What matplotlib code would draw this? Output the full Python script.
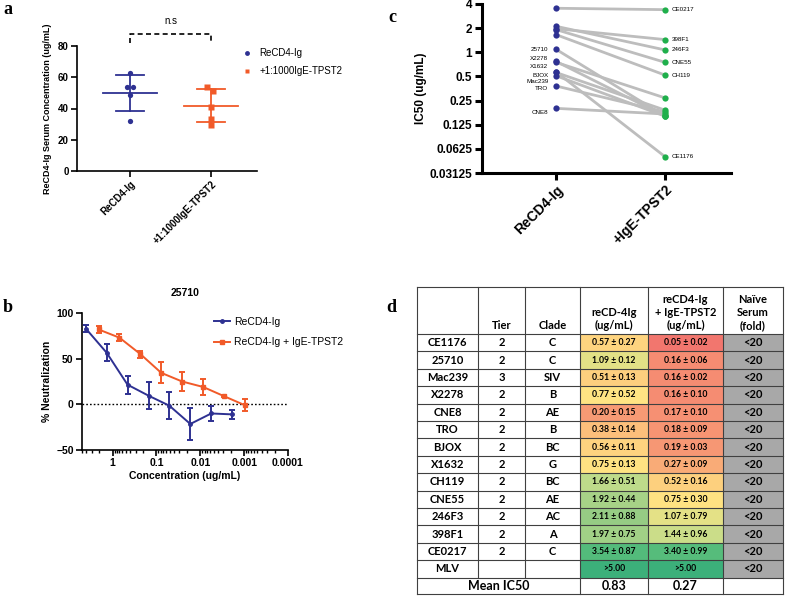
import numpy as np
import matplotlib
matplotlib.use('Agg')
import matplotlib.pyplot as plt
from matplotlib.lines import Line2D
from matplotlib.patches import Rectangle
from matplotlib.colors import LinearSegmentedColormap, LogNorm
from matplotlib.ticker import LogLocator, NullFormatter, FixedLocator

plt.rcParams['font.family'] = ['Liberation Sans', 'DejaVu Sans']

W, H = 787, 597
BLUE = '#2E3192'
ORANGE = '#F15A29'
GREEN = '#1FAF4B'
GRAY_LINE = '#BDBDBD'

# ---------------- Panel a data ----------------
groups_a = ['ReCD4-Ig', '+1:1000IgE-TPST2']
serum_recd4 = [63.0, 53.5, 53.5, 48.5, 32.0]
serum_tpst2 = [54.0, 51.5, 41.0, 33.5, 29.5]
jitter_recd4 = [0.0, -0.04, 0.04, 0.0, 0.0]
jitter_tpst2 = [-0.05, 0.03, 0.0, 0.0, 0.0]

# ---------------- Panel b data ----------------
series_b = ['ReCD4-Ig', 'ReCD4-Ig + IgE-TPST2']
conc_recd4 = [4.1, 1.37, 0.457, 0.152, 0.0508, 0.0169, 0.00564, 0.00188]
neut_recd4 = [83, 56.5, 21.5, 9.5, -1.5, -21.5, -10, -11]
err_recd4 = [4, 9.5, 10, 14.5, 15, 18, 8.5, 5]
conc_tpst2 = [2.1, 0.70, 0.233, 0.078, 0.026, 0.0086, 0.0029, 0.00096]
neut_tpst2 = [82, 73, 55, 34.5, 25, 19, 9, -1]
err_tpst2 = [3.6, 3.5, 3.8, 11.5, 10, 8.5, 1, 6.5]
conc_ticks = [1, 0.1, 0.01, 0.001, 0.0001]
conc_tick_labels = ['1', '0.1', '0.01', '0.001', '0.0001']

# ---------------- Table / panel c data ----------------
strains = ['CE1176', '25710', 'Mac239', 'X2278', 'CNE8', 'TRO', 'BJOX',
           'X1632', 'CH119', 'CNE55', '246F3', '398F1', 'CE0217']
tiers = ['2', '2', '3', '2', '2', '2', '2', '2', '2', '2', '2', '2', '2']
clades = ['C', 'C', 'SIV', 'B', 'AE', 'B', 'BC', 'G', 'BC', 'AE', 'AC', 'A', 'C']
ic50_recd4 = [0.57, 1.09, 0.51, 0.77, 0.20, 0.38, 0.56, 0.75, 1.66, 1.92, 2.11, 1.97, 3.54]
sd_recd4 = [0.27, 0.12, 0.13, 0.52, 0.15, 0.14, 0.11, 0.13, 0.51, 0.44, 0.88, 0.75, 0.87]
ic50_tpst2 = [0.05, 0.16, 0.16, 0.16, 0.17, 0.18, 0.19, 0.27, 0.52, 0.75, 1.07, 1.44, 3.40]
sd_tpst2 = [0.02, 0.06, 0.02, 0.10, 0.10, 0.09, 0.03, 0.09, 0.16, 0.30, 0.79, 0.96, 0.99]
naive_fold = ['<20'] * 13
mlv_name = 'MLV'
mlv_value = 5.00
mlv_naive = '<20'
mean_ic50 = [0.83, 0.27]
ic50_ticks = [0.03125, 0.0625, 0.125, 0.25, 0.5, 1, 2, 4]
ic50_tick_labels = ['0.03125', '0.0625', '0.125', '0.25', '0.5', '1', '2', '4']
groups_c = ['ReCD4-Ig', '+IgE-TPST2']
left_labels = ['25710', 'X2278', 'X1632', 'BJOX', 'Mac239', 'TRO', 'CNE8']
left_label_y = [1.07, 0.84, 0.66, 0.52, 0.43, 0.35, 0.18]
right_labels = ['CE0217', '398F1', '246F3', 'CNE55', 'CH119', 'CE1176']

fig = plt.figure(figsize=(W / 100, H / 100), dpi=100)


def ax_px(l, t, r, b, **kw):
    return fig.add_axes([l / W, 1 - b / H, (r - l) / W, (b - t) / H], **kw)


def style_axes(ax, lw=1.2, tl=4, fs=7.5):
    for s in ['top', 'right']:
        ax.spines[s].set_visible(False)
    for s in ['left', 'bottom']:
        ax.spines[s].set_linewidth(lw)
    ax.tick_params(axis='both', which='major', width=lw, length=tl, labelsize=fs, pad=2)
    for lab in ax.get_xticklabels() + ax.get_yticklabels():
        lab.set_fontweight('bold')


# ================= Panel a =================
axa = ax_px(77, 46, 257, 171)
for i, (vals, jit, col, mk) in enumerate([(serum_recd4, jitter_recd4, BLUE, 'o'),
                                          (serum_tpst2, jitter_tpst2, ORANGE, 's')]):
    v = np.array(vals)
    m, sd = v.mean(), v.std(ddof=1)
    axa.plot(i + np.array(jit), v, mk, color=col, ms=3.8, mec='none', zorder=3, clip_on=False)
    axa.plot([i - 0.33, i + 0.33], [m, m], color=col, lw=1.3)
    axa.plot([i, i], [m - sd, m + sd], color=col, lw=1.3)
    axa.plot([i - 0.17, i + 0.17], [m + sd, m + sd], color=col, lw=1.3)
    axa.plot([i - 0.17, i + 0.17], [m - sd, m - sd], color=col, lw=1.3)
axa.set_xlim(-0.654, 1.568)
axa.set_ylim(0, 80)
axa.set_yticks([0, 20, 40, 60, 80])
axa.set_xticks([0, 1])
axa.set_xticklabels(groups_a, rotation=45, ha='right', rotation_mode='anchor', fontsize=6.5)
style_axes(axa, lw=1.2, tl=4, fs=7)
axa.set_ylabel('ReCD4-Ig Serum Concentration (ug/mL)', fontsize=6.5, fontweight='bold', labelpad=4)
# significance bracket
axa.plot([0, 0, 1, 1], [82, 87.7, 87.7, 82], 'k--', lw=1.2, dashes=(3, 2), clip_on=False)
axa.text(0.5, 93, 'n.s', ha='center', va='bottom', fontsize=7)
handles_a = [Line2D([], [], ls='none', marker='o', color=BLUE, ms=3.5, mec='none'),
             Line2D([], [], ls='none', marker='s', color=ORANGE, ms=3.5, mec='none')]
axa.legend(handles_a, groups_a, loc='upper left', bbox_to_anchor=(242 / W, 1 - 48 / H),
           bbox_transform=fig.transFigure, frameon=False, fontsize=7, handlelength=1.0,
           handletextpad=0.8, labelspacing=0.85, borderpad=0, borderaxespad=0)

# ================= Panel b =================
axb = ax_px(82, 313, 288, 450)
axb.set_xscale('log')
axb.errorbar(conc_recd4, neut_recd4, yerr=err_recd4, color=BLUE, lw=1.4, marker='o', ms=2.5,
             capsize=2.5, elinewidth=1.4, capthick=1.4, zorder=3)
axb.errorbar(conc_tpst2, neut_tpst2, yerr=err_tpst2, color=ORANGE, lw=1.4, marker='s', ms=2.5,
             capsize=2.5, elinewidth=1.4, capthick=1.4, zorder=3)
axb.axhline(0, color='black', lw=1.0, ls=(0, (1.2, 1.5)), zorder=1)
axb.set_xlim(5, 1e-4)
axb.set_ylim(-50, 100)
axb.set_yticks([-50, 0, 50, 100])
axb.xaxis.set_major_locator(FixedLocator(conc_ticks))
axb.set_xticklabels(conc_tick_labels)
axb.xaxis.set_minor_locator(LogLocator(base=10, subs=np.arange(2, 10)))
axb.xaxis.set_minor_formatter(NullFormatter())
style_axes(axb, lw=1.2, tl=4, fs=7.5)
axb.tick_params(axis='x', which='minor', length=2.5, width=1.0)
axb.set_xlabel('Concentration (ug/mL)', fontsize=7.5, fontweight='bold', labelpad=2)
axb.set_ylabel('% Neutralization', fontsize=7.5, fontweight='bold', labelpad=3)
axb.set_title('25710', fontsize=7.5, fontweight='bold', pad=12)
handles_b = [Line2D([], [], color=BLUE, lw=1.4, marker='o', ms=2.5),
             Line2D([], [], color=ORANGE, lw=1.4, marker='s', ms=2.5)]
axb.legend(handles_b, series_b, loc='upper left', bbox_to_anchor=(214 / W, 1 - 317 / H),
           bbox_transform=fig.transFigure, frameon=False, fontsize=7.5, handlelength=1.5,
           handletextpad=0.4, labelspacing=1.0, borderpad=0, borderaxespad=0)

# ================= Panel c =================
axc = ax_px(482, 4, 731, 173)
axc.set_yscale('log', base=2)
for a, b in zip(ic50_recd4, ic50_tpst2):
    axc.plot([0, 1], [a, b], color=GRAY_LINE, lw=2, zorder=1, solid_capstyle='round')
axc.plot(np.zeros(len(ic50_recd4)), ic50_recd4, 'o', color=BLUE, ms=4.5, mec='none', zorder=3)
axc.plot(np.ones(len(ic50_tpst2)), ic50_tpst2, 'o', color=GREEN, ms=4.5, mec='none', zorder=3)
axc.set_xlim(-0.679, 1.606)
axc.set_ylim(0.03125, 4)
axc.yaxis.set_major_locator(FixedLocator(ic50_ticks))
axc.set_yticklabels(ic50_tick_labels)
axc.yaxis.set_minor_locator(FixedLocator([]))
axc.set_xticks([0, 1])
axc.set_xticklabels(groups_c, rotation=45, ha='right', rotation_mode='anchor')
style_axes(axc, lw=2.2, tl=5, fs=8.5)
for lab in axc.get_xticklabels():
    lab.set_fontsize(10)
axc.set_ylabel('IC50 (ug/mL)', fontsize=8.5, fontweight='bold', labelpad=2)
for name, yv in zip(left_labels, left_label_y):
    axc.text(-0.07, yv, name, ha='right', va='center', fontsize=4.5)
for name in right_labels:
    idx = strains.index(name)
    axc.text(1.06, ic50_tpst2[idx], name, ha='left', va='center', fontsize=4.5)

# ================= Panel d (table) =================
axt = fig.add_axes([0, 0, 1, 1])
axt.set_xlim(0, W)
axt.set_ylim(H, 0)
axt.axis('off')

cmap = LinearSegmentedColormap.from_list('ryg', [
    (0.0, '#F2766E'), (0.25, '#F58C72'), (0.44, '#FCBF7B'), (0.6, '#FFE583'),
    (0.76, '#BFDB8A'), (0.81, '#9ACD85'), (0.92, '#55BC7B'), (1.0, '#3CB07A')])
norm = LogNorm(vmin=0.05, vmax=5.0)

col_x = [417, 478, 525, 580, 648, 723, 783]
top, head_b = 287, 334
row_h = 17.4
n_rows = len(strains) + 1
mean_top = head_b + n_rows * row_h
bottom = 594
TF = ['Lato', 'DejaVu Sans']
LC = '#404040'


def cx(c):
    return (col_x[c] + col_x[c + 1]) / 2


# header
hy = head_b - 3
axt.text(cx(1), hy, 'Tier', ha='center', va='bottom', fontsize=8, fontweight='bold', family=TF)
axt.text(cx(2), hy, 'Clade', ha='center', va='bottom', fontsize=8, fontweight='bold', family=TF)
axt.text(cx(3), hy, 'reCD-4Ig\n(ug/mL)', ha='center', va='bottom', fontsize=8,
         fontweight='bold', family=TF, linespacing=1.2)
axt.text(cx(4), hy, 'reCD4-Ig\n+ IgE-TPST2\n(ug/mL)', ha='center', va='bottom', fontsize=8,
         fontweight='bold', family=TF, linespacing=1.2)
axt.text(cx(5), hy, 'Naïve\nSerum\n(fold)', ha='center', va='bottom', fontsize=8,
         fontweight='bold', family=TF, linespacing=1.2)

rows_names = strains + [mlv_name]
rows_tier = tiers + ['']
rows_clade = clades + ['']
rows_v1 = ic50_recd4 + [mlv_value]
rows_v2 = ic50_tpst2 + [mlv_value]
rows_t1 = [f'{m:.2f} ± {s:.2f}' for m, s in zip(ic50_recd4, sd_recd4)] + [f'>{mlv_value:.2f}']
rows_t2 = [f'{m:.2f} ± {s:.2f}' for m, s in zip(ic50_tpst2, sd_tpst2)] + [f'>{mlv_value:.2f}']
rows_naive = naive_fold + [mlv_naive]

for r in range(n_rows):
    y0 = head_b + r * row_h
    yc = y0 + row_h / 2
    for c, v in ((3, rows_v1[r]), (4, rows_v2[r])):
        axt.add_patch(Rectangle((col_x[c], y0), col_x[c + 1] - col_x[c], row_h,
                                facecolor=cmap(norm(v)), edgecolor='none', zorder=1))
    axt.add_patch(Rectangle((col_x[5], y0), col_x[6] - col_x[5], row_h,
                            facecolor='#A8A8A8', edgecolor='none', zorder=1))
    axt.text(cx(0), yc, rows_names[r], ha='center', va='center', fontsize=8, fontweight='bold', family=TF)
    axt.text(cx(1), yc, rows_tier[r], ha='center', va='center', fontsize=8, fontweight='bold', family=TF)
    axt.text(cx(2), yc, rows_clade[r], ha='center', va='center', fontsize=8, fontweight='bold', family=TF)
    axt.text(cx(3), yc, rows_t1[r], ha='center', va='center', fontsize=6.2, fontweight='bold', family=TF)
    axt.text(cx(4), yc, rows_t2[r], ha='center', va='center', fontsize=6.2, fontweight='bold', family=TF)
    axt.text(cx(5), yc, rows_naive[r], ha='center', va='center', fontsize=8, fontweight='bold', family=TF)

ym = (mean_top + bottom) / 2
axt.text((col_x[0] + col_x[3]) / 2, ym, 'Mean IC50', ha='center', va='center', fontsize=9,
         fontweight='bold', family=TF)
axt.text(cx(3), ym, f'{mean_ic50[0]:.2f}', ha='center', va='center', fontsize=9, fontweight='bold', family=TF)
axt.text(cx(4), ym, f'{mean_ic50[1]:.2f}', ha='center', va='center', fontsize=9, fontweight='bold', family=TF)

# grid lines
lw_t = 0.8
hlines = [top, head_b] + [head_b + r * row_h for r in range(1, n_rows + 1)] + [bottom]
for y in hlines:
    axt.plot([col_x[0], col_x[-1]], [y, y], color=LC, lw=lw_t, zorder=2)
for i, x in enumerate(col_x):
    y_end = bottom if i in (0, 3, 4, 5, 6) else mean_top
    axt.plot([x, x], [top, y_end], color=LC, lw=lw_t, zorder=2)

# panel letters
for letter, (px, py) in {'a': (8, 10), 'b': (8, 308), 'c': (392, 18), 'd': (391, 308)}.items():
    fig.text(px / W, 1 - py / H, letter, fontsize=13, fontweight='bold',
             family=['Liberation Serif', 'DejaVu Serif'], ha='center', va='center')

fig.savefig('out.png', dpi=100)
